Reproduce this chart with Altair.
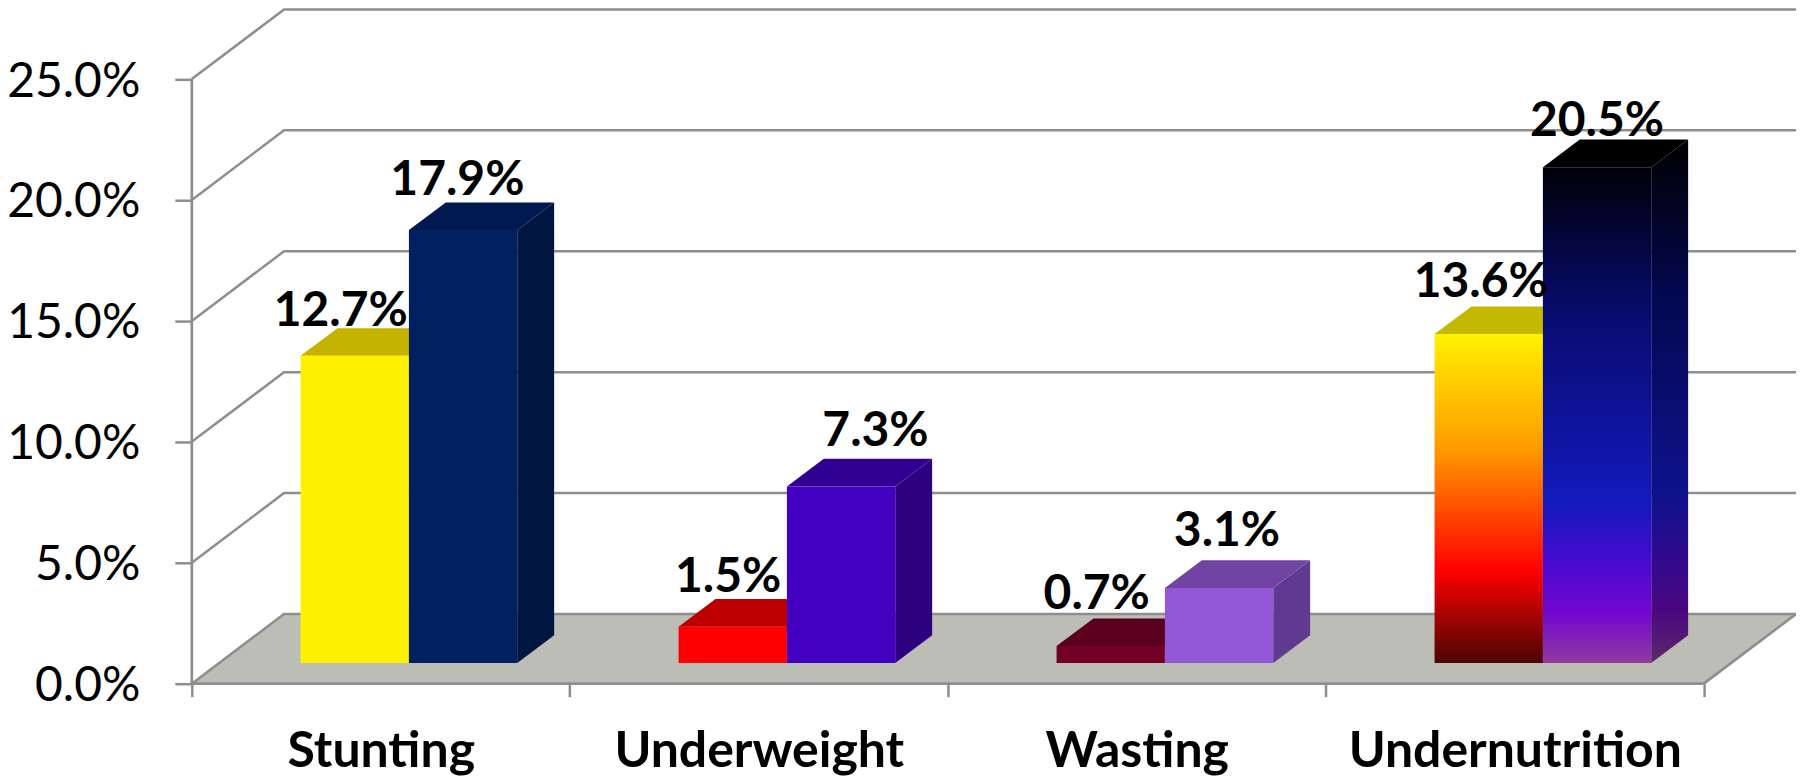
import altair as alt
import pandas as pd

categories = ["Stunting", "Underweight", "Wasting", "Undernutrition"]
first_series = [12.7, 1.5, 0.7, 13.6]
second_series = [17.9, 7.3, 3.1, 20.5]
y_ticks = [0, 5, 10, 15, 20, 25]
x_ticks = [0, 0.5, 1, 1.5, 2, 2.5, 3, 3.5, 4]

# label nudges (category units, percentage points), one per bar
first_nudge_x = [-0.037, -0.012, -0.037, -0.021]
first_nudge_y = [1.83, 2.02, 2.12, 2.12]
second_nudge_x = [-0.015, 0.091, 0.021, 0.0]
second_nudge_y = [2.02, 2.26, 2.31, 1.88]

# oblique projection of the 3D box
DX, DY = 0.244, 2.88          # full depth of the box
FX, FY = 0.0744, 0.857        # bar front plane
BX, BY = 0.0976, 1.143        # bar depth
BW, MARGIN = 0.2866, 0.2134   # bar width and side gap

GRID = "#8e8e8e"
FONT = "Lato"
XS = alt.Scale(domain=[0, 4 + DX], nice=False, zero=False)
YS = alt.Scale(domain=[0, 25 + DY], nice=False, zero=False)

label_expr = (
    "datum.value==0.5?'Stunting':datum.value==1.5?'Underweight':"
    "datum.value==2.5?'Wasting':datum.value==3.5?'Undernutrition':''"
)
X_AXIS = alt.Axis(
    values=x_ticks, title=None, domain=False, grid=False, labelExpr=label_expr,
    labelFont=FONT, labelFontSize=50, labelFontWeight="bold", labelColor="#000000",
    labelPadding=30, labelOverlap=False, labelFlush=False, labelBound=False, labelLimit=1000,
    tickColor=GRID, tickWidth=2.5, tickSize=13,
    tickOpacity=alt.expr("datum.value%1==0?1:0"),
)
Y_AXIS = alt.Axis(
    values=y_ticks, title=None, domain=False, grid=False,
    labelExpr="format(datum.value,'.1f')+'%'",
    labelFont=FONT, labelFontSize=48, labelColor="#000000",
    labelPadding=35, labelFlush=False, labelOverlap=False, labelOffset=3,
    tickColor=GRID, tickWidth=2.5, tickSize=17,
)
X = lambda f: alt.X(f"{f}:Q", scale=XS, axis=X_AXIS)
Y = lambda f: alt.Y(f"{f}:Q", scale=YS, axis=Y_AXIS)


def grad(stops):
    return alt.Gradient(
        gradient="linear", x1=0, x2=0, y1=0, y2=1,
        stops=[alt.GradientStop(color=c, offset=o) for o, c in stops],
    )


layers = []

# gridlines on side and back walls
grid_rows = []
for v in y_ticks:
    grid_rows += [
        {"id": v, "k": 0, "x": 0, "y": v},
        {"id": v, "k": 1, "x": DX, "y": v + DY},
        {"id": v, "k": 2, "x": 4 + DX, "y": v + DY},
    ]

# floor
floor_df = pd.DataFrame([
    {"y": 0, "x": 0, "x2": 4},
    {"y": DY, "x": DX, "x2": 4 + DX},
])
layers.append(
    alt.Chart(floor_df).mark_area(orient="horizontal", color="#bcbdb4").encode(
        y=Y("y"), x=X("x"), x2="x2:Q"
    )
)
layers.append(
    alt.Chart(pd.DataFrame(grid_rows)).mark_line(color=GRID, strokeWidth=2.5).encode(
        x=X("x"), y=Y("y"), detail="id:N", order="k:Q"
    )
)
# front wall edge, front floor edge, right floor edge
edges = pd.DataFrame([
    {"id": "w", "k": 0, "x": 0, "y": 0}, {"id": "w", "k": 1, "x": 0, "y": 25},
    {"id": "f", "k": 0, "x": 0, "y": 0}, {"id": "f", "k": 1, "x": 4, "y": 0},
    {"id": "r", "k": 0, "x": 4, "y": 0}, {"id": "r", "k": 1, "x": 4 + DX, "y": DY},
])
layers.append(
    alt.Chart(edges).mark_line(color=GRID, strokeWidth=2.7).encode(
        x=X("x"), y=Y("y"), detail="id:N", order="k:Q"
    )
)

# colours: front, top, side for each bar
fire = grad([(0, "#fff200"), (0.35, "#ff9a00"), (0.72, "#ff0000"), (0.88, "#960404"), (1, "#4c0404")])
night = grad([(0, "#000008"), (0.3, "#080c70"), (0.68, "#1419bd"), (0.8, "#4a0ad0"),
              (0.9, "#7208cf"), (1, "#903a9c")])
night_side = grad([(0, "#000000"), (0.3, "#040850"), (0.68, "#0e128c"), (0.8, "#300a8c"),
                   (0.9, "#4a0880"), (1, "#5c2a68")])
styles_first = [
    ("#fff000", "#c4b400", "#9a8e00"),
    ("#ff0000", "#bc0000", "#900000"),
    ("#720026", "#5a001e", "#460018"),
    (fire, "#c4b800", "#000000"),
]
styles_second = [
    ("#00205f", "#001a4f", "#00153f"),
    ("#4400c0", "#320090", "#2e0080"),
    ("#9258d8", "#7144a4", "#5f3a90"),
    (night, "#000000", night_side),
]


def bar(left, value, front, top, side):
    l, r = left + FX, left + FX + BW
    yb, yt = FY, FY + value
    rect = pd.DataFrame([{"x": l, "x2": r, "y": yb, "y2": yt}])
    top_df = pd.DataFrame([
        {"y": yt, "x": l, "x2": r},
        {"y": yt + BY, "x": l + BX, "x2": r + BX},
    ])
    side_df = pd.DataFrame([
        {"x": r, "y": yb, "y2": yt},
        {"x": r + BX, "y": yb + BY, "y2": yt + BY},
    ])
    return [
        alt.Chart(side_df).mark_area(color=side).encode(x=X("x"), y=Y("y"), y2="y2:Q"),
        alt.Chart(top_df).mark_area(orient="horizontal", color=top).encode(y=Y("y"), x=X("x"), x2="x2:Q"),
        alt.Chart(rect).mark_rect(color=front).encode(x=X("x"), x2="x2:Q", y=Y("y"), y2="y2:Q"),
    ]


labels = []
for i in range(len(categories)):
    left = i + MARGIN
    layers += bar(left, first_series[i], *styles_first[i])
    layers += bar(left + BW, second_series[i], *styles_second[i])
    labels.append({
        "x": left + FX + BW / 2 + first_nudge_x[i],
        "y": first_series[i] + FY + first_nudge_y[i],
        "t": f"{first_series[i]:.1f}%",
    })
    labels.append({
        "x": left + FX + 1.5 * BW + second_nudge_x[i],
        "y": second_series[i] + FY + second_nudge_y[i],
        "t": f"{second_series[i]:.1f}%",
    })

layers.append(
    alt.Chart(pd.DataFrame(labels)).mark_text(
        font=FONT, fontSize=48, fontWeight="bold", color="#000000", baseline="middle", align="center"
    ).encode(x=X("x"), y=Y("y"), text="t:N")
)

chart = (
    alt.layer(*layers)
    .resolve_scale(x="shared", y="shared")
    .properties(
        width=1606, height=675,
        autosize=alt.AutoSizeParams(type="none"),
        padding={"left": 184, "top": 1, "right": 0, "bottom": 93},
        background="#ffffff",
    )
    .configure_view(stroke=None)
)
chart.save("out.html", embed_options={"renderer": "svg", "actions": False})
